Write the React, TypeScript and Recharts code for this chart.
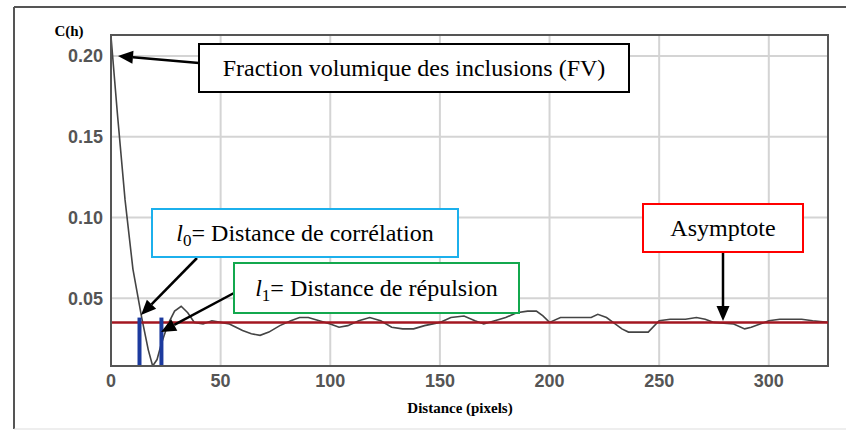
import React from 'react';
import { LineChart, Line, XAxis, YAxis, CartesianGrid, ReferenceLine, ReferenceArea } from 'recharts';

// C(h)
const distance = [
  0, 3, 6.4, 10, 14, 17, 19, 21, 23, 26, 29, 32, 35, 38, 42, 46, 50, 54, 57, 60, 64, 68, 72, 77, 82, 86,
  90, 95, 100, 104, 108, 113, 118, 123, 128, 133, 138, 143, 150, 155, 161, 166, 170, 175, 180, 185, 190,
  194, 197, 200, 205, 212, 219, 222, 226, 229, 233, 236, 245, 250, 255, 262, 267, 271, 275, 284, 289,
  292, 296, 300, 305, 315, 320, 327,
];
const correlation = [
  0.212, 0.163, 0.111, 0.068, 0.038, 0.018, 0.008, 0.012, 0.022, 0.034, 0.042, 0.045, 0.041, 0.035,
  0.034, 0.036, 0.035, 0.034, 0.032, 0.03, 0.028, 0.027, 0.029, 0.033, 0.036, 0.038, 0.038, 0.036,
  0.034, 0.032, 0.033, 0.036, 0.038, 0.036, 0.032, 0.031, 0.031, 0.033, 0.035, 0.038, 0.039, 0.036,
  0.034, 0.036, 0.038, 0.041, 0.042, 0.042, 0.039, 0.035, 0.038, 0.038, 0.038, 0.04, 0.038, 0.035,
  0.031, 0.029, 0.029, 0.036, 0.037, 0.037, 0.038, 0.037, 0.035, 0.034, 0.031, 0.032, 0.034, 0.036,
  0.037, 0.037, 0.036, 0.035,
];

const xTicks = [0, 50, 100, 150, 200, 250, 300];
const yTicks = [0.05, 0.1, 0.15, 0.2];
const xDomain = [0, 327];
const yDomain = [0.008, 0.213];

const asymptote = 0.035;
// l0 and l1 markers
const markerX = [13, 23];
const markerTop = [0.038, 0.038];

const data = distance.map((h, i) => ({ h, c: correlation[i] }));

const W = 846;
const H = 431;

function Arrow({ x1, y1, x2, y2 }: { x1: number; y1: number; x2: number; y2: number }) {
  const a = Math.atan2(y2 - y1, x2 - x1);
  const len = 15;
  const half = 6.5;
  const bx = x2 - len * Math.cos(a);
  const by = y2 - len * Math.sin(a);
  const pts = [
    [x2, y2],
    [bx + half * Math.sin(a), by - half * Math.cos(a)],
    [bx - half * Math.sin(a), by + half * Math.cos(a)],
  ]
    .map((p) => p.join(','))
    .join(' ');
  return (
    <g>
      <line x1={x1} y1={y1} x2={bx} y2={by} stroke="#000" strokeWidth={2.5} />
      <polygon points={pts} fill="#000" />
    </g>
  );
}

function Box({ x, y, w, h, color, children }: any) {
  return (
    <g>
      <rect x={x} y={y} width={w} height={h} fill="#fff" stroke={color} strokeWidth={2} />
      <text
        x={x + w / 2}
        y={y + h / 2 + 8}
        textAnchor="middle"
        fontFamily="'Liberation Serif', 'Times New Roman', serif"
        fontSize={24}
        fill="#000"
      >
        {children}
      </text>
    </g>
  );
}

export default function App() {
  return (
    <div style={{ position: 'absolute', left: 0, top: 0, width: W, height: H, background: '#fff' }}>
      <LineChart width={W} height={H} data={data} margin={{ top: 35, right: 18, bottom: 0, left: 0 }}>
        <CartesianGrid stroke="#d4d4d4" strokeWidth={2} horizontalValues={yTicks} verticalValues={xTicks} />
        <XAxis
          dataKey="h"
          type="number"
          domain={xDomain}
          ticks={xTicks}
          height={65}
          tickLine={false}
          axisLine={{ stroke: '#555', strokeWidth: 2 }}
          tick={{ fill: '#555', fontSize: 18, fontWeight: 600, fontFamily: "'Liberation Sans', Arial, sans-serif" }}
          allowDataOverflow
        />
        <YAxis
          type="number"
          domain={yDomain}
          ticks={yTicks}
          width={111}
          tickLine={false}
          axisLine={{ stroke: '#555', strokeWidth: 2 }}
          tickFormatter={(v: number) => v.toFixed(2)}
          tick={{ fill: '#555', fontSize: 18, fontWeight: 600, fontFamily: "'Liberation Sans', Arial, sans-serif" }}
          allowDataOverflow
        />
        <ReferenceArea
          x1={xDomain[0]}
          x2={xDomain[1]}
          y1={yDomain[0]}
          y2={yDomain[1]}
          fill="none"
          fillOpacity={0}
          stroke="#555"
          strokeWidth={2}
        />
        <Line
          dataKey="c"
          type="linear"
          stroke="#444"
          strokeWidth={1.6}
          dot={false}
          isAnimationActive={false}
        />
        <ReferenceLine y={asymptote} stroke="#a31620" strokeWidth={2.5} />
        {markerX.map((mx, i) => (
          <ReferenceLine
            key={mx}
            segment={[
              { x: mx, y: yDomain[0] },
              { x: mx, y: markerTop[i] },
            ]}
            stroke="#1c3a9e"
            strokeWidth={4}
          />
        ))}
      </LineChart>

      <svg width={W} height={H} style={{ position: 'absolute', left: 0, top: 0, pointerEvents: 'none' }}>
        {/* outer figure frame */}
        <line x1={14} y1={7} x2={W} y2={7} stroke="#555" strokeWidth={2} />
        <line x1={14} y1={7} x2={14} y2={429} stroke="#555" strokeWidth={2} />
        <line x1={14} y1={429} x2={W} y2={429} stroke="#ddd" strokeWidth={1} />

        <text x={69} y={36} textAnchor="middle" fontFamily="'Liberation Serif', serif" fontWeight="bold" fontSize={15}>
          C(h)
        </text>
        <text x={460} y={413} textAnchor="middle" fontFamily="'Liberation Serif', serif" fontWeight="bold" fontSize={15}>
          Distance (pixels)
        </text>

        <Arrow x1={199} y1={63} x2={118} y2={56} />
        <Box x={199} y={44} w={430} h={48} color="#000">
          Fraction volumique des inclusions (FV)
        </Box>

        <Arrow x1={197} y1={258} x2={141} y2={315} />
        <Box x={152} y={209} w={306} h={48} color="#1cb0ec">
          <tspan fontStyle="italic">l</tspan>
          <tspan fontSize={17} dy={5}>0</tspan>
          <tspan dy={-5}>= Distance de corrélation</tspan>
        </Box>

        <Arrow x1={234} y1={293} x2={161} y2={332} />
        <Box x={234} y={263} w={285} h={50} color="#13a84e">
          <tspan fontStyle="italic">l</tspan>
          <tspan fontSize={17} dy={5}>1</tspan>
          <tspan dy={-5}>= Distance de répulsion</tspan>
        </Box>

        <Arrow x1={723} y1={253} x2={723} y2={321} />
        <Box x={643} y={204} w={160} h={48} color="#ff0000">
          Asymptote
        </Box>
      </svg>
    </div>
  );
}
